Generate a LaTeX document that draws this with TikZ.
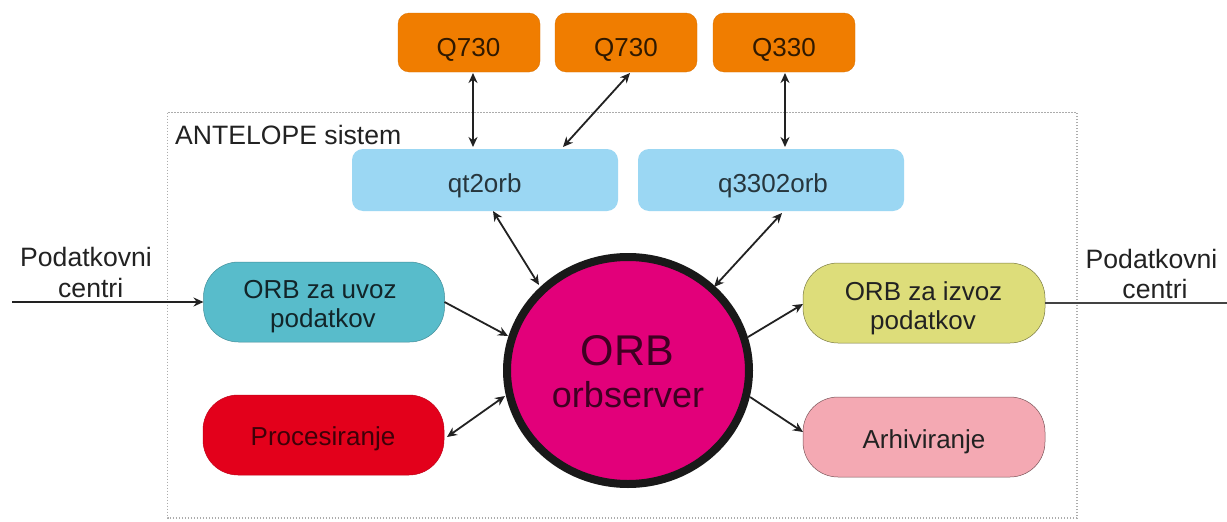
\documentclass[tikz,border=0pt]{standalone}
\usepackage{fontspec}
\setmainfont{Liberation Sans}
\usetikzlibrary{arrows.meta,shapes.geometric}
\definecolor{ink}{HTML}{222222}
\definecolor{cOrange}{HTML}{F07D00}
\definecolor{cBlue}{HTML}{9BD7F3}
\definecolor{cTeal}{HTML}{58BCCB}
\definecolor{cRed}{HTML}{E3001B}
\definecolor{cOlive}{HTML}{DDDD7A}
\definecolor{cPink}{HTML}{F4A9B3}
\definecolor{cMag}{HTML}{E2007A}
\newcommand{\tline}[3]{\hspace*{#1pt}\makebox[0pt]{\raisebox{-#2pt}[0pt][0pt]{#3}}\hspace*{-#1pt}}
\tikzset{
  boxtext/.style={font=\fontsize{26}{29}\selectfont,text=ink,inner sep=0pt,outer sep=0pt},
  sqbox/.style={boxtext,rounded corners=11pt},
  pill/.style={boxtext,rounded corners=35pt,minimum width=241pt,minimum height=80pt},
  orangebox/.style={sqbox,fill=cOrange,draw=cOrange!90!black,line width=.3pt,minimum width=142pt,minimum height=59pt,text=black!80!cOrange},
  bluebox/.style={sqbox,fill=cBlue,minimum width=266pt,minimum height=62pt,text=black!75!cBlue},
  conn/.style={draw=ink,line width=1.8pt,-{Stealth[length=10pt,width=9pt]}},
  biconn/.style={draw=ink,line width=1.8pt,{Stealth[length=10pt,width=9pt]}-{Stealth[length=10pt,width=9pt]}},
  plain/.style={draw=ink!85!white,line width=1.8pt},
  textlabel/.style={font=\fontsize{26.6}{31}\selectfont,text=ink,inner sep=0pt}
}
\begin{document}
\begin{tikzpicture}[x=1pt,y=-1pt]
\useasboundingbox (0,0) rectangle (1227,522);
\fill[white] (0,0) rectangle (1227,522);
\draw[gray!65,line width=1.3pt,dash pattern=on 1.3pt off 1.7pt] (167.5,112.5) rectangle (1077,518);
\node[textlabel,anchor=west] (ant) at (175,137) {\raisebox{-7pt}[0pt][0pt]{ANTELOPE sistem}};
\node[orangebox] (q1) at (469,42.5) {\tline{-0.5}{14.2}{Q730}};
\node[orangebox] (q2) at (626,42.5) {\tline{0}{14.2}{Q730}};
\node[orangebox] (q3) at (784,42.5) {\tline{0}{14.2}{Q330}};
\node[bluebox] (qt) at (485,180) {\tline{-0.3}{12.5}{qt2orb}};
\node[bluebox] (q33) at (771,180) {\tline{2}{12.5}{q3302orb}};
\node[pill,fill=cTeal,draw=cTeal!75!black,line width=.5pt,text=black!80!cTeal] (uvoz) at (324,302) {\tline{-4}{-4}{ORB za uvoz}\tline{-1}{25}{podatkov}};
\node[pill,fill=cRed,draw=cRed!85!black,line width=.5pt,text=black!72!cRed] (proc) at (323.5,435) {\tline{-0.5}{10}{Procesiranje}};
\node[pill,fill=cOlive,draw=cOlive!55!black,line width=.5pt,minimum width=242pt] (izvoz) at (924,303) {\tline{-0.5}{-3}{ORB za izvoz}\tline{-1}{26}{podatkov}};
\node[pill,fill=cPink,draw=cPink!50!black,line width=.5pt,minimum width=242pt] (arh) at (924,437) {\tline{0}{11}{Arhiviranje}};
\node[ellipse,fill=cMag,draw=black!90,line width=8pt,minimum width=242pt,minimum height=227pt,inner sep=0pt,outer sep=0pt,text=black!72!cMag] (orb) at (628,370.5) {\fontsize{43}{43}\selectfont\tline{-0.5}{-5.5}{ORB}\fontsize{36}{36}\selectfont\tline{0}{36.5}{orbserver}};
\node[textlabel] (pl) at (87,282) {\tline{-1}{-16}{Podatkovni}\tline{3.7}{15}{centri}};
\node[textlabel] (pr) at (1152,283) {\tline{-0.5}{-15}{Podatkovni}\tline{3}{15}{centri}};
\coordinate (inL) at (12,302);
\coordinate (outR) at (1227,303);
\draw[biconn] ([shift={(4,30.5)}]q1.center) -- ([shift={(-12,-33)}]qt.center);
\draw[biconn] ([shift={(4,30.5)}]q2.center) -- ([shift={(78,-33)}]qt.center);
\draw[biconn] ([shift={(1,30.5)}]q3.center) -- ([shift={(14,-33)}]q33.center);
\draw[biconn] ([shift={(8,31)}]qt.center) -- ([shift={(-89,-85.5)}]orb.center);
\draw[biconn] ([shift={(11,33)}]q33.center) -- ([shift={(86,-83.5)}]orb.center);
\draw[conn] (inL) -- (uvoz.west);
\draw[conn] (uvoz.east) -- ([shift={(-120,-34.5)}]orb.center);
\draw[biconn] ([shift={(3,2)}]proc.east) -- ([shift={(-123,25.5)}]orb.center);
\draw[conn] ([shift={(120,-33.5)}]orb.center) -- ([shift={(0,1)}]izvoz.west);
\draw[conn] ([shift={(122,26.5)}]orb.center) -- ([shift={(0,-5)}]arh.west);
\draw[plain] (izvoz.east) -- (outR);
\end{tikzpicture}
\end{document}
